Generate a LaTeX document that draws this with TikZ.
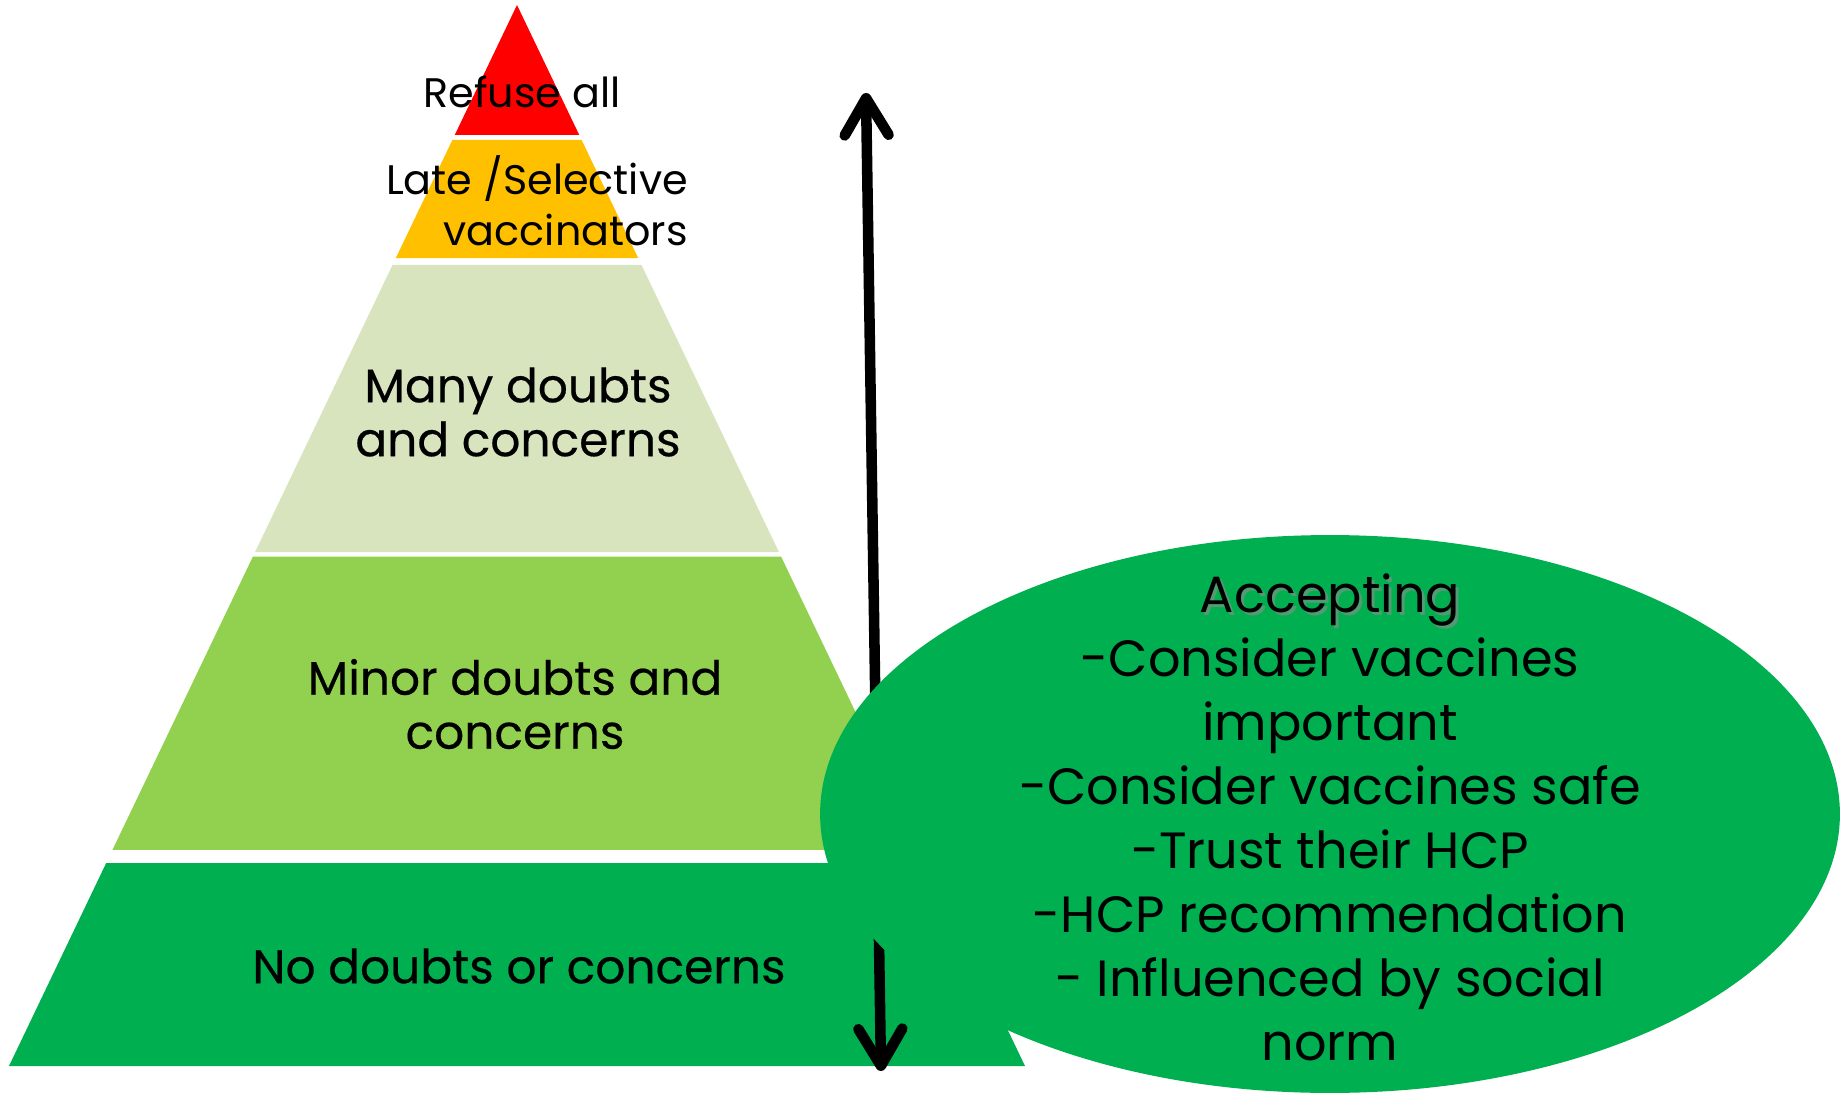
\documentclass[tikz,border=0pt]{standalone}
\usepackage{fontspec}
\setmainfont{Poppins}
\usetikzlibrary{calc,arrows.meta}

\definecolor{refusered}{HTML}{FF0000}
\definecolor{lateorange}{HTML}{FFC000}
\definecolor{manygreen}{HTML}{D7E4BD}
\definecolor{minorgreen}{HTML}{92D050}
\definecolor{acceptgreen}{HTML}{00B050}

\begin{document}
\begin{tikzpicture}[x=0.02cm, y=-0.02cm,
  toplabel/.style={align=right, font=\fontsize{23.5}{29}\selectfont},
  layerlabel/.style={align=center, font=\fontsize{26.8}{30.7}\selectfont\addfontfeature{FakeBold=0.4}},
  acceptlabel/.style={align=center, font=\fontsize{29}{36.4}\selectfont},
  hesitancy/.style={line width=6pt,
    {Straight Barb[round, length=21pt, width=25pt]}-{Straight Barb[round, length=21pt, width=25pt]}}]
\useasboundingbox (0,0) rectangle (1841,1097);

% Define points for the pyramid: apex and base corners
\coordinate (T) at (517, 5);
\coordinate (L) at (9, 1066);
\coordinate (R) at (1025, 1066);

% Define points for the double arrow
\coordinate (arrowtop) at (866, 93);
\coordinate (arrowbot) at (881, 1071);

% Pyramid layers, top to bottom
\fill[refusered] (T) -- ($(T)!0.1225!(R)$) -- ($(T)!0.1225!(L)$) -- cycle;
\fill[lateorange] ($(T)!0.1272!(L)$) -- ($(T)!0.1272!(R)$) -- ($(T)!0.2385!(R)$) -- ($(T)!0.2385!(L)$) -- cycle;
\fill[manygreen] ($(T)!0.2450!(L)$) -- ($(T)!0.2450!(R)$) -- ($(T)!0.5156!(R)$) -- ($(T)!0.5156!(L)$) -- cycle;
\fill[minorgreen] ($(T)!0.5198!(L)$) -- ($(T)!0.5198!(R)$) -- ($(T)!0.7964!(R)$) -- ($(T)!0.7964!(L)$) -- cycle;
\fill[acceptgreen] ($(T)!0.8087!(L)$) -- ($(T)!0.8087!(R)$) -- (R) -- (L) -- cycle;

% Draw the double arrow (behind the ellipse)
\draw[hesitancy] (arrowbot) -- (arrowtop);

% Accepting ellipse
\fill[acceptgreen] (1330, 814) ellipse [x radius=10.2cm, y radius=5.58cm];

% Labels
\node[toplabel] (refuse) at (522, 92) {Refuse all};
\node[toplabel, anchor=east] (late) at (694, 201) {Late /Selective\\vaccinators};
\node[layerlabel] (many) at (518, 412) {Many doubts\\and concerns};
\node[layerlabel] (minor) at (515, 704) {Minor doubts and\\concerns};
\node[layerlabel] (nodoubt) at (519, 966) {No doubts or concerns};
\node[acceptlabel, text=black!45, opacity=0.6] (acceptshadow) at (1333, 603) {Accepting};
\node[acceptlabel] (accepttitle) at (1330, 600) {Accepting};
\node[acceptlabel, anchor=north] (acceptlist) at (1330, 632) {-Consider vaccines\\important\\-Consider vaccines safe\\-Trust their HCP\\-HCP recommendation\\- Influenced by social\\norm};

\end{tikzpicture}
\end{document}
